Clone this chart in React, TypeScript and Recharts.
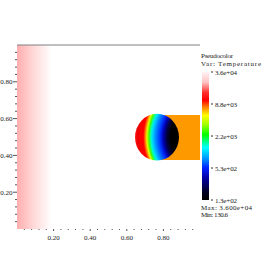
import React from 'react';
import { ScatterChart, Scatter, XAxis, YAxis, ReferenceArea, ReferenceLine } from 'recharts';

// axis ticks (major get a label, minor are just little marks)
const MAJOR_TICKS = [0.2, 0.4, 0.6, 0.8];
const MINOR_TICKS = [
  0.04, 0.08, 0.12, 0.16, 0.24, 0.28, 0.32, 0.36, 0.44, 0.48,
  0.52, 0.56, 0.64, 0.68, 0.72, 0.76, 0.84, 0.88, 0.92, 0.96,
];

// regions of the temperature field, in data coords
const WARM_BAND_X = [0, 0.19];
const HOT_BLOCK_X = [0.75, 1.0];
const HOT_BLOCK_Y = [0.375, 0.62];
const DISK_X = [0.645, 0.885];
const DISK_Y = [0.372, 0.626];

// colour bar
const BAR_LABELS = ['3.6e+04', '8.8e+03', '2.2e+03', '5.3e+02', '1.3e+02'];
const VAR_MAX = '3.600e+04';
const VAR_MIN = '130.6';

const FONT = '"Liberation Serif", "DejaVu Serif", serif';
const FS = 7;
const INK = '#1a1a1a';

const BAR_STOPS: [number, string][] = [
  [0, '#FFF2F2'],
  [0.08, '#FFC4C4'],
  [0.16, '#FF3030'],
  [0.22, '#FF0000'],
  [0.275, '#FF8000'],
  [0.34, '#FFFF00'],
  [0.41, '#A0FF00'],
  [0.49, '#00FF00'],
  [0.59, '#00FFFF'],
  [0.67, '#00A0FF'],
  [0.75, '#0020FF'],
  [0.83, '#0000A0'],
  [0.94, '#000020'],
  [1, '#000000'],
];

const DISK_STOPS: [number, string][] = [
  [0, '#000000'],
  [0.46, '#000000'],
  [0.52, '#000040'],
  [0.57, '#0000B0'],
  [0.62, '#0030FF'],
  [0.68, '#0080FF'],
  [0.73, '#00D0FF'],
  [0.76, '#00FFC0'],
  [0.79, '#40FF00'],
  [0.82, '#E0FF00'],
  [0.845, '#FF8000'],
  [0.875, '#FF0000'],
  [0.93, '#FF0000'],
  [0.95, '#E80000'],
  [1, '#FF1010'],
];

// corners of the mesh, so the chart has something to plot
const MESH_CORNERS = [
  { x: 0, y: 0 },
  { x: 1, y: 1 },
];

function XTick({ x, y, payload }: any) {
  const major = MAJOR_TICKS.includes(payload.value);
  return (
    <g>
      <line x1={x} x2={x} y1={y} y2={y + (major ? 2 : 1)} stroke="#555" />
      {major && (
        <text x={x} y={y + 11} textAnchor="middle" fontSize={FS} fontFamily={FONT} fill={INK}>
          {payload.value.toFixed(2)}
        </text>
      )}
    </g>
  );
}

function YTick({ x, y, payload }: any) {
  const major = MAJOR_TICKS.includes(payload.value);
  return (
    <g>
      <line x1={x - (major ? 4 : 2)} x2={x} y1={y} y2={y} stroke="#555" />
      {major && (
        <text x={x - 4.5} y={y + 2.5} textAnchor="end" fontSize={FS} fontFamily={FONT} fill={INK}>
          {payload.value.toFixed(2)}
        </text>
      )}
    </g>
  );
}

function Disk({ x, y, width, height }: any) {
  return (
    <ellipse
      cx={x + width / 2}
      cy={y + height / 2}
      rx={width / 2}
      ry={height / 2}
      fill="url(#diskGrad)"
    />
  );
}

function Legend() {
  const barX = 202;
  const barTop = 72;
  const barBottom = 200;
  const step = (barBottom - barTop) / (BAR_LABELS.length - 1);
  return (
    <svg
      width={262}
      height={262}
      style={{ position: 'absolute', left: 0, top: 0, pointerEvents: 'none' }}
    >
      <defs>
        <linearGradient id="barGrad" x1="0" y1="0" x2="0" y2="1">
          {BAR_STOPS.map(([o, c]) => (
            <stop key={o} offset={o} stopColor={c} />
          ))}
        </linearGradient>
      </defs>
      <text x={201} y={58} fontSize={FS} fontFamily={FONT} fill={INK} textLength={32}>
        Pseudocolor
      </text>
      <text x={201} y={66} fontSize={FS} fontFamily={FONT} fill={INK} textLength={60}>
        Var: Temperature
      </text>
      <rect x={barX} y={barTop} width={7} height={barBottom - barTop} fill="url(#barGrad)" />
      {BAR_LABELS.map((lab, i) => {
        const ly = barTop + i * step;
        return (
          <g key={lab}>
            <line x1={211} x2={213} y1={ly} y2={ly} stroke="#333" />
            <text x={215} y={ly + 2.5} fontSize={FS} fontFamily={FONT} fill={INK} textLength={22}>
              {lab}
            </text>
          </g>
        );
      })}
      <text x={201} y={210} fontSize={FS} fontFamily={FONT} fill={INK} textLength={51}>
        {`Max:  ${VAR_MAX}`}
      </text>
      <text x={201} y={217} fontSize={FS} fontFamily={FONT} fill={INK} textLength={27}>
        {`Min:  ${VAR_MIN}`}
      </text>
    </svg>
  );
}

const allTicks = [...MAJOR_TICKS, ...MINOR_TICKS].sort((a, b) => a - b);

export default function App() {
  return (
    <div style={{ position: 'absolute', left: 0, top: 0, width: 262, height: 262, background: '#fff' }}>
      <ScatterChart width={262} height={262} margin={{ top: 45, right: 62, bottom: 0, left: 0 }}>
        <defs>
          <linearGradient id="warmGrad" x1="0" y1="0" x2="1" y2="0">
            <stop offset={0} stopColor="#FFAEAE" />
            <stop offset={0.5} stopColor="#FFDADA" />
            <stop offset={1} stopColor="#FFFFFF" />
          </linearGradient>
          <radialGradient id="diskGrad" cx={1.5} cy={0.5} r={1.5}>
            {DISK_STOPS.map(([o, c]) => (
              <stop key={o} offset={o} stopColor={c} />
            ))}
          </radialGradient>
        </defs>
        <XAxis
          type="number"
          dataKey="x"
          domain={[0, 1]}
          ticks={allTicks}
          interval={0}
          axisLine={false}
          tickLine={false}
          tickSize={0}
          tickMargin={0}
          tick={XTick}
          height={33}
        />
        <YAxis
          type="number"
          dataKey="y"
          domain={[0, 1]}
          ticks={allTicks}
          interval={0}
          axisLine={false}
          tickLine={false}
          tickSize={0}
          tickMargin={0}
          tick={YTick}
          width={17}
        />
        <ReferenceArea
          x1={WARM_BAND_X[0]}
          x2={WARM_BAND_X[1]}
          y1={0}
          y2={1}
          fill="url(#warmGrad)"
          fillOpacity={1}
          stroke="none"
        />
        <ReferenceArea
          x1={HOT_BLOCK_X[0]}
          x2={HOT_BLOCK_X[1]}
          y1={HOT_BLOCK_Y[0]}
          y2={HOT_BLOCK_Y[1]}
          fill="#FF9900"
          fillOpacity={1}
          stroke="none"
        />
        <ReferenceArea
          x1={DISK_X[0]}
          x2={DISK_X[1]}
          y1={DISK_Y[0]}
          y2={DISK_Y[1]}
          fillOpacity={1}
          shape={Disk}
        />
        <ReferenceLine y={1} stroke="#808080" strokeWidth={1} />
        <Scatter data={MESH_CORNERS} isAnimationActive={false} shape={() => <g />} />
      </ScatterChart>
      <Legend />
    </div>
  );
}
